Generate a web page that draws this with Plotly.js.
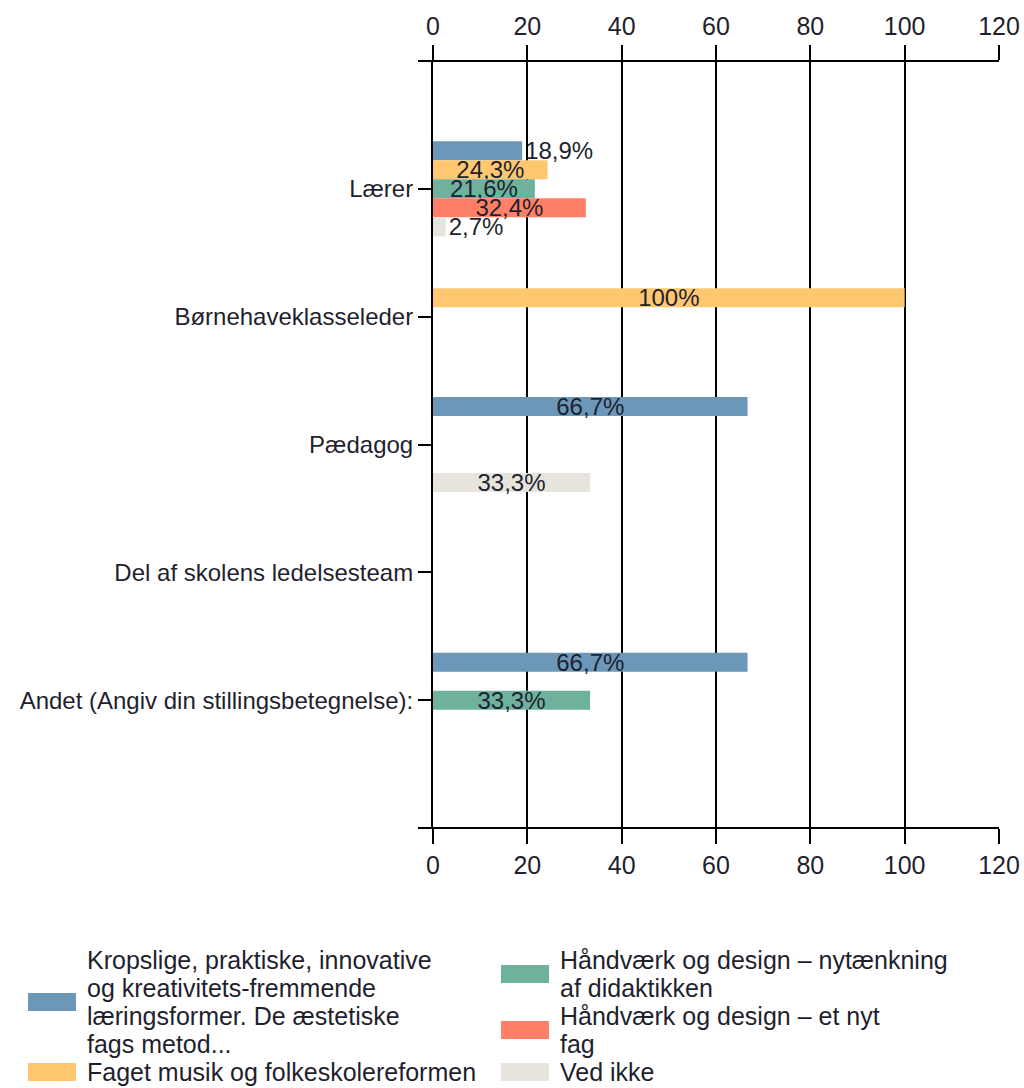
<!DOCTYPE html>
<html>
<head>
<meta charset="utf-8">
<script src="https://cdn.plot.ly/plotly-3.0.1.min.js"></script>
<style>html,body{margin:0;padding:0;background:#fff;}#chart{width:1024px;height:1088px;}</style>
</head>
<body>
<div id="chart"></div>
<script>
const categories = ['Lærer', 'Børnehaveklasseleder', 'Pædagog', 'Del af skolens ledelsesteam', 'Andet (Angiv din stillingsbetegnelse):'];
const seriesNames = [
  'Kropslige, praktiske, innovative<br>og kreativitets-fremmende<br>læringsformer. De æstetiske<br>fags metod...',
  'Faget musik og folkeskolereformen',
  'Håndværk og design – nytænkning<br>af didaktikken',
  'Håndværk og design – et nyt<br>fag',
  'Ved ikke'
];
const kropslige = [18.9, 0, 66.7, 0, 66.7];
const fagetMusik = [24.3, 100, 0, 0, 0];
const hvNytaenkning = [21.6, 0, 0, 0, 33.3];
const hvNytFag = [32.4, 0, 0, 0, 0];
const vedIkke = [2.7, 0, 33.3, 0, 0];
const xTicks = [0, 20, 40, 60, 80, 100, 120];

const seriesValues = [kropslige, fagetMusik, hvNytaenkning, hvNytFag, vedIkke];
const colors = ['#6b97b8', '#ffc870', '#6eb29d', '#ff8066', '#e6e4dd'];
const FONT = '"Liberation Sans", Arial, sans-serif';
const labelColor = '#1f1f2e';

function fmt(v) { return v > 0 ? String(v).replace('.', ',') + '%' : ''; }

const traces = seriesValues.map((vals, i) => ({
  type: 'bar',
  orientation: 'h',
  name: seriesNames[i],
  y: categories,
  x: vals,
  xaxis: 'x',
  yaxis: 'y',
  text: vals.map(fmt),
  textposition: vals.map(v => v < 20 ? 'outside' : 'inside'),
  insidetextanchor: 'middle',
  textangle: 0,
  constraintext: 'none',
  cliponaxis: false,
  textfont: {family: FONT, size: 24, color: labelColor},
  insidetextfont: {family: FONT, size: 24, color: labelColor},
  outsidetextfont: {family: FONT, size: 24, color: labelColor},
  marker: {color: colors[i], line: {width: 0}},
  showlegend: false,
  hoverinfo: 'x+y+name'
}));

// invisible companion trace so the mirrored top value axis is drawn
traces.push({
  type: 'scatter',
  mode: 'none',
  x: kropslige,
  y: categories,
  xaxis: 'x2',
  yaxis: 'y',
  showlegend: false,
  hoverinfo: 'skip'
});

const axisCommon = {
  range: [0, 120],
  autorange: false,
  tickvals: xTicks,
  ticktext: xTicks.map(String),
  ticks: 'outside',
  ticklen: 15,
  tickwidth: 2,
  tickcolor: '#000',
  tickfont: {family: FONT, size: 25, color: labelColor},
  zeroline: false,
  showline: false,
  fixedrange: true
};

// Legend drawn as swatches + text, from seriesNames and colors (two columns)
const legendCols = [[0, 1], [2, 3, 4]];
const legendColX = [85, 558];       // text left (px)
const legendColGap = [0, 0];
const legendTop = 946;
const lineH = 28;
const plotL = 433, plotW = 566, plotT = 61, plotH = 767;
function px2x(px) { return (px - plotL) / plotW; }
function py2y(py) { return (plotT + plotH - py) / plotH; }

const shapes = [
  {type: 'line', xref: 'paper', yref: 'paper', x0: px2x(418), x1: 1, y0: 1, y1: 1, line: {color: '#000', width: 2}},
  {type: 'line', xref: 'paper', yref: 'paper', x0: px2x(418), x1: 1, y0: 0, y1: 0, line: {color: '#000', width: 2}}
];
const annotations = [];
legendCols.forEach((col, ci) => {
  let y = legendTop;
  col.forEach(si => {
    const lines = seriesNames[si].split('<br>');
    const h = lines.length * lineH;
    const mid = y + h / 2;
    shapes.push({
      type: 'rect', xref: 'paper', yref: 'paper',
      x0: px2x(legendColX[ci] - 57), x1: px2x(legendColX[ci] - 9),
      y0: py2y(mid - 9), y1: py2y(mid + 9),
      fillcolor: colors[si], line: {width: 0}
    });
    lines.forEach((ln, li) => {
      annotations.push({
        xref: 'paper', yref: 'paper',
        x: px2x(legendColX[ci]), y: py2y(y + li * lineH + lineH / 2),
        xanchor: 'left', yanchor: 'middle',
        text: ln, showarrow: false,
        font: {family: FONT, size: 25, color: labelColor}
      });
    });
    y += h + legendColGap[ci];
  });
});

const layout = {
  width: 1024,
  height: 1088,
  autosize: false,
  paper_bgcolor: '#fff',
  plot_bgcolor: '#fff',
  margin: {l: plotL, r: 1024 - plotL - plotW, t: plotT, b: 1088 - plotT - plotH, pad: 0},
  barmode: 'group',
  bargap: 0.257,
  bargroupgap: 0,
  showlegend: false,
  font: {family: FONT, size: 25, color: labelColor},
  xaxis: Object.assign({}, axisCommon, {
    side: 'bottom',
    anchor: 'y',
    showgrid: true,
    gridcolor: '#000',
    gridwidth: 2
  }),
  xaxis2: Object.assign({}, axisCommon, {
    side: 'top',
    overlaying: 'x',
    anchor: 'y',
    showgrid: false
  }),
  yaxis: {
    type: 'category',
    categoryorder: 'array',
    categoryarray: categories,
    range: [5, -1],
    autorange: false,
    ticks: 'outside',
    ticklen: 13,
    tickwidth: 2,
    tickcolor: '#000',
    showline: true,
    linecolor: '#000',
    linewidth: 2,
    showgrid: false,
    zeroline: false,
    tickfont: {family: FONT, size: 24, color: labelColor},
    fixedrange: true
  },
  shapes: shapes,
  annotations: annotations
};

Plotly.newPlot('chart', traces, layout, {displayModeBar: false, staticPlot: true});
</script>
</body>
</html>
